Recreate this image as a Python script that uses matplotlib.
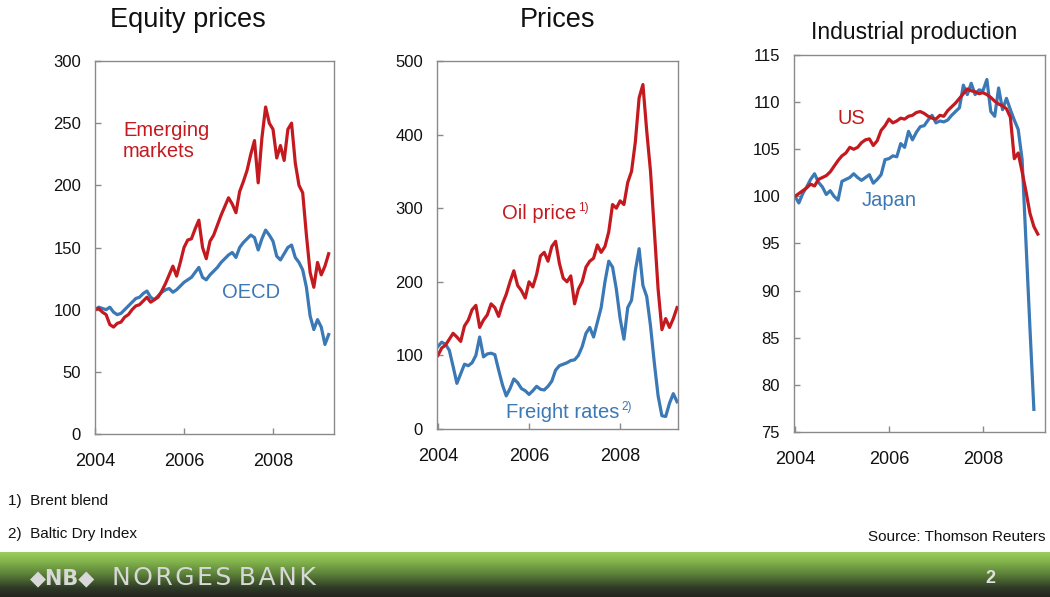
import numpy as np
import matplotlib
matplotlib.use("Agg")
import matplotlib.pyplot as plt
from matplotlib.colors import LinearSegmentedColormap

# ---------------- data (monthly, starting January 2004) ----------------
start_year = 2004
emerging = [100, 101, 98, 96, 88, 86, 89, 90, 94, 96, 100, 103,
            104, 107, 110, 106, 108, 110, 115, 121, 128, 135, 127, 138,
            150, 156, 157, 165, 172, 150, 141, 155, 160, 168, 176, 183,
            190, 185, 178, 195, 203, 212, 225, 236, 202, 238, 263, 250,
            245, 222, 232, 220, 245, 250, 218, 200, 194, 160, 130, 118,
            138, 128, 135, 145]
oecd = [100, 102, 101, 100, 102, 98, 96, 97, 100, 103, 106, 109,
        110, 113, 115, 110, 108, 111, 114, 116, 117, 114, 116, 119,
        122, 124, 126, 130, 134, 126, 124, 128, 131, 134, 138, 141,
        144, 146, 142, 150, 154, 157, 160, 158, 148, 157, 164, 160,
        155, 143, 140, 145, 150, 152, 142, 138, 132, 118, 95, 84,
        92, 86, 72, 80]
oil = [100, 110, 114, 122, 130, 125, 119, 140, 148, 162, 168, 138,
       148, 155, 170, 165, 153, 170, 183, 200, 215, 195, 188, 178,
       200, 193, 210, 235, 240, 228, 248, 255, 225, 205, 200, 208,
       170, 190, 200, 220, 228, 232, 250, 240, 248, 268, 305, 300,
       310, 305, 335, 350, 390, 450, 468, 405, 350, 270, 190, 135,
       150, 138, 150, 165]
freight = [112, 118, 115, 107, 85, 62, 75, 88, 86, 90, 100, 125,
           98, 102, 103, 101, 80, 60, 45, 55, 68, 63, 55, 52,
           47, 52, 58, 54, 53, 58, 65, 80, 86, 88, 90, 93,
           94, 100, 112, 130, 138, 125, 145, 165, 200, 228, 220, 190,
           150, 122, 165, 175, 215, 245, 195, 180, 140, 90, 45, 18,
           17, 35, 48, 37]
us_ip = [100.0, 100.3, 100.6, 100.9, 101.3, 101.1, 101.8, 102.0, 102.2, 102.6, 103.2, 103.8,
         104.3, 104.6, 105.2, 105.0, 105.2, 105.7, 106.0, 106.1, 105.4, 105.9, 107.0, 107.5,
         108.2, 107.8, 108.0, 108.3, 108.2, 108.5, 108.6, 108.9, 109.0, 108.8, 108.5, 108.3,
         108.2, 108.6, 108.5, 109.1, 109.5, 109.9, 110.4, 110.9, 111.4, 111.2, 111.1, 110.9,
         111.0, 110.8, 110.5, 110.1, 109.8, 109.6, 109.3, 108.4, 104.0, 104.6, 102.6, 100.5,
         98.2, 96.8, 96.0]
japan_ip = [100.0, 99.3, 100.3, 101.0, 101.8, 102.4, 101.5, 101.0, 100.2, 100.6, 100.0, 99.6,
            101.6, 101.8, 102.0, 102.4, 102.0, 101.7, 102.0, 102.3, 101.4, 101.8, 102.3, 103.9,
            104.0, 104.3, 104.2, 105.6, 105.2, 106.9, 106.0, 106.8, 107.4, 107.5, 108.1, 108.6,
            107.8, 108.0, 107.9, 108.1, 108.6, 109.0, 109.4, 111.8, 110.8, 112.0, 110.8, 111.3,
            111.2, 112.4, 109.0, 108.5, 111.5, 109.2, 110.4, 109.2, 108.1, 107.1, 103.9, 95.0,
            86.0, 77.4]
year_ticks = [2004, 2006, 2008]
equity_yticks = [0, 50, 100, 150, 200, 250, 300]
prices_yticks = [0, 100, 200, 300, 400, 500]
ip_yticks = [75, 80, 85, 90, 95, 100, 105, 110, 115]

# ---------------- style ----------------
plt.rcParams['font.family'] = ['Liberation Sans', 'DejaVu Sans']
RED = '#C41A1F'
BLUE = '#3B78B6'
GRAY = '#8a8a8a'
TXT = '#111111'
LW = 2.3


def months(values):
    return start_year + np.arange(len(values)) / 12.0


def style(ax, ylim, yticks, xlim):
    ax.set_xlim(*xlim)
    ax.set_ylim(*ylim)
    ax.set_yticks(yticks)
    ax.set_xticks(year_ticks)
    ax.tick_params(direction='in', length=4, color=GRAY, width=1, labelcolor=TXT)
    ax.tick_params(axis='y', labelsize=12, pad=10)
    ax.tick_params(axis='x', labelsize=13, pad=14)
    for s in ax.spines.values():
        s.set_color(GRAY)
        s.set_linewidth(1.0)


fig = plt.figure(figsize=(10.5, 5.97), dpi=100)
W, H = 1050.0, 597.0


def box(l, r, t, b):
    return [l / W, 1 - b / H, (r - l) / W, (b - t) / H]


# Panel 1: Equity prices
ax1 = fig.add_axes(box(95, 334, 61, 434))
ax1.plot(months(oecd), oecd, color=BLUE, lw=LW)
ax1.plot(months(emerging), emerging, color=RED, lw=LW)
style(ax1, (0, 300), equity_yticks, (2004.0, 2009.37))
ax1.text(2004.63, 252, "Emerging\nmarkets", color=RED, fontsize=14.5,
         va='top', ha='left', linespacing=1.15)
ax1.text(2006.85, 114, "OECD", color=BLUE, fontsize=14.5, va='center', ha='left')
fig.text(188 / W, 1 - 20 / H, "Equity prices", fontsize=19.5, ha='center', va='center', color=TXT)

# Panel 2: Prices
ax2 = fig.add_axes(box(437, 678, 61, 429))
ax2.plot(months(freight), freight, color=BLUE, lw=LW)
ax2.plot(months(oil), oil, color=RED, lw=LW)
style(ax2, (0, 500), prices_yticks, (2003.98, 2009.27))
t_oil = ax2.text(2005.41, 293, "Oil price", color=RED, fontsize=14.5, va='center', ha='left')
ax2.annotate("1)", xy=(1.02, 0.78), xycoords=t_oil, color=RED, fontsize=8.5, va='center', ha='left')
t_fr = ax2.text(2005.49, 22, "Freight rates", color=BLUE, fontsize=14.5, va='center', ha='left')
ax2.annotate("2)", xy=(1.02, 0.78), xycoords=t_fr, color=BLUE, fontsize=8.5, va='center', ha='left')
fig.text(558 / W, 1 - 20 / H, "Prices", fontsize=19.5, ha='center', va='center', color=TXT)

# Panel 3: Industrial production
ax3 = fig.add_axes(box(794, 1045, 55, 432))
ax3.plot(months(japan_ip), japan_ip, color=BLUE, lw=LW)
ax3.plot(months(us_ip), us_ip, color=RED, lw=LW)
style(ax3, (75, 115), ip_yticks, (2003.98, 2009.32))
ax3.text(2004.91, 108.3, "US", color=RED, fontsize=14.5, va='center', ha='left')
ax3.text(2005.43, 99.6, "Japan", color=BLUE, fontsize=14.5, va='center', ha='left')
fig.text(914 / W, 1 - 33 / H, "Industrial production", fontsize=16.5, ha='center', va='center', color=TXT)

# Footnotes and source
fig.text(8 / W, 1 - 501 / H, "1)  Brent blend", fontsize=11, ha='left', va='center', color=TXT)
fig.text(8 / W, 1 - 534 / H, "2)  Baltic Dry Index", fontsize=11, ha='left', va='center', color=TXT)
fig.text(1045 / W, 1 - 537 / H, "Source: Thomson Reuters", fontsize=11, ha='right', va='center', color=TXT)

# Footer band with gradient
fax = fig.add_axes([0, 0, 1, 45 / H])
cmap = LinearSegmentedColormap.from_list(
    "footer", [(0.0, "#9ccd5e"), (0.2, "#84b54c"), (0.5, "#5a7f38"), (0.8, "#2f3a27"), (1.0, "#23261f")])
grad = np.linspace(0, 1, 100).reshape(-1, 1)
fax.imshow(grad, aspect='auto', cmap=cmap, extent=[0, 1, 0, 1])
fax.set_axis_off()
fax.text(30 / W, 0.42, "\u25C6NB\u25C6", transform=fax.transAxes, fontsize=15, fontweight='bold',
         color='#d8d8d8', ha='left', va='center', family=['DejaVu Sans'])
fax.text(112 / W, 0.42, "N O R G E S   B A N K".replace(" ", "\u200A"), transform=fax.transAxes,
         fontsize=18, color='#d8d8d8', ha='left', va='center', family=['DejaVu Sans'])
fax.text(990 / W, 0.42, "2", transform=fax.transAxes, fontsize=13, fontweight='bold',
         color='#e0e0e0', ha='center', va='center')

fig.savefig("out.png", dpi=100, facecolor='white')
